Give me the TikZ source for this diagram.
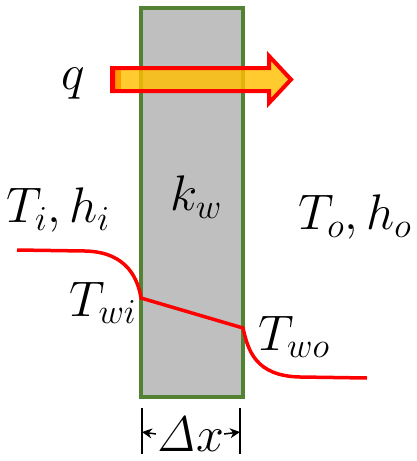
\RequirePackage{fix-cm}
\documentclass[tikz,border=0pt]{standalone}
\usepackage{amsmath}
\usepackage{xcolor}
\usepackage{tikz}
\usetikzlibrary{arrows.meta, positioning, calc}

\definecolor{wallgray}{HTML}{BFBFBF}
\definecolor{wallgreen}{HTML}{548235}
\definecolor{heatyellow}{HTML}{FFC000}

\begin{document}
\begin{tikzpicture}[x=1pt, y=-1pt]

  \useasboundingbox (0,0) rectangle (416,461);

  \tikzset{
    lbl/.style={inner sep=0pt, font=\fontsize{50}{60}\selectfont},
    tprofile/.style={red, line width=3.5pt},
    dimline/.style={black, line width=1.5pt},
  }

  %% Wall
  \draw[fill=wallgray, draw=wallgreen, line width=3.5pt] (141,8) rectangle (243,397);

  %% Heat flux arrow
  \fill[red] (110,66) rectangle (121,93);
  \draw[red, line width=4pt, fill=heatyellow, fill opacity=0.82, line join=miter]
    (113,68) -- (269,68) -- (269,56) -- (291,79.5) -- (269,103) -- (269,91) -- (113,91) -- cycle;

  %% Labels
  \node[lbl] (q)   at (73,84)   {$q$};
  \node[lbl] (ti)  at (58,210)  {$T_i,h_i$};
  \node[lbl] (kw)  at (196,197) {$k_w$};
  \node[lbl] (to)  at (355,217) {$T_o,h_o$};
  \node[lbl] (twi) at (103,303) {$T_{wi}$};
  \node[lbl] (two) at (294,337) {$T_{wo}$};

  %% Temperature profile
  \coordinate (pin) at (17,250);
  \coordinate (pwi) at (141,298);
  \coordinate (pwo) at (243,328);
  \coordinate (pout) at (367,378);
  \draw[tprofile] (pin) -- (85,251)
    .. controls (128,252) and (138,280) .. (pwi)
    -- (pwo)
    .. controls (248,350) and (255,376) .. (300,377)
    -- (pout);

  %% Wall thickness
  \coordinate (dl) at (142,432);
  \coordinate (dr) at (240,432);
  \draw[dimline] (142,408) -- (142,454);
  \draw[dimline] (240,408) -- (240,454);
  \node[lbl] (dx) at (190,434) {$\mathit{\Delta}x$};
  \draw[dimline, -{Stealth[length=10pt,width=10pt]}] (dx.west) -- (dl);
  \draw[dimline, -{Stealth[length=10pt,width=10pt]}] (dx.east) -- (dr);

\end{tikzpicture}
\end{document}
